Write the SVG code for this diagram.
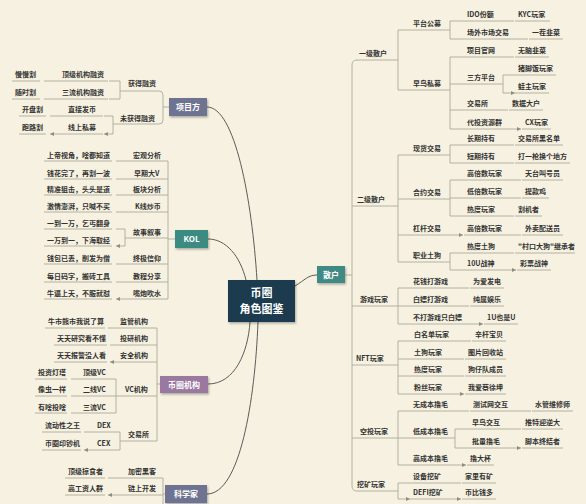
<svg xmlns="http://www.w3.org/2000/svg" width="586" height="504" viewBox="0 0 586 504">
<style>
text{font-family:"Noto Sans CJK SC","Noto Sans",sans-serif;}
.t{font-size:7px;fill:#333;font-weight:bold}
.b{font-size:8px;fill:#fff;font-weight:bold;text-anchor:middle}
.c{font-size:11px;fill:#fff;font-weight:bold;text-anchor:middle}
.l{stroke:#a3a394;stroke-width:.8;fill:none}
.a{stroke:#a3a394;stroke-width:.8;fill:none;marker-end:url(#ar)}
.m{stroke:#5c5c58;stroke-width:1;fill:none}
</style>
<defs>
<marker id="ar" viewBox="0 0 6 6" refX="6" refY="3" markerWidth="4" markerHeight="4" orient="auto" markerUnits="userSpaceOnUse"><path d="M0,0 L6,3 L0,6 z" fill="#8e8e80"/></marker>
<filter id="sh" x="-10%" y="-10%" width="130%" height="140%"><feDropShadow dx="1" dy="1.5" stdDeviation="0.8" flood-color="#000" flood-opacity="0.3"/></filter>
</defs>
<rect width="586" height="504" fill="#f6f1e0"/>

<g id="connectors">
<!-- main curves -->
<path class="m" d="M207 107 C235 107 252 200 257 280"/>
<path class="m" d="M208 239 C226 239 240 256 246 280"/>
<path class="m" d="M208 384 C235 384 248 352 250 322"/>
<path class="m" d="M207 494 C240 494 255 400 258 322"/>
<path class="m" d="M295 286 C305 280 308 275 317 275"/>

<!-- 项目方 -->
<path class="l" d="M169 107 H163 M120 91 H159 Q163 91 163 95 V120 Q163 124 159 124 H113"/>
<path class="l" d="M120 81 V99 M113 116 V134"/>
<path class="a" d="M120 81 H109 M120 99 H109 M113 116 H104 M113 134 H104"/>
<path class="a" d="M108 81 H44 M108 99 H44 M103 116 H50 M103 134 H50"/>
<path class="l" d="M12 81 H40 M12 99 H40 M19 116 H46 M19 134 H46"/>

<!-- KOL -->
<path class="l" d="M175 239 H168 M168 161 V299"/>
<path class="a" d="M168 161 H116 M168 179 H116 M168 195 H116 M168 212 H116 M168 264 H116 M168 282 H116 M168 299 H116"/>
<path class="l" d="M168 238 H125 M125 229 V246"/>
<path class="a" d="M125 229 H116 M125 246 H116"/>
<path class="l" d="M44 161 H112 M44 179 H112 M44 195 H112 M44 212 H112 M44 229 H112 M44 246 H112 M44 264 H112 M44 282 H112 M44 299 H112"/>

<!-- 币圈机构 -->
<path class="l" d="M160 384 H157 M157 328 V441"/>
<path class="a" d="M157 328 H108 M157 345 H110 M157 362 H110"/>
<path class="l" d="M45 328 H105 M54 345 H107 M54 362 H107"/>
<path class="l" d="M157 396 H116 M116 379 V413 M157 441 H120 M120 432 V450"/>
<path class="a" d="M116 379 H71 M116 396 H71 M116 413 H71 M120 432 H84 M120 450 H84"/>
<path class="l" d="M35 379 H67 M35 396 H67 M35 413 H67 M42 432 H81 M42 450 H81"/>

<!-- 科学家 -->
<path class="l" d="M165 494 H163 M163 478 V504"/>
<path class="a" d="M163 478 H108 M163 495 H108"/>
<path class="l" d="M65 478 H105 M65 495 H105"/>

<!-- 散户 main -->
<path class="l" d="M345 275 H352 M357 60 Q352 60 352 65 V486 Q352 491 357 491"/>
<path class="l" d="M357 60 H398 M352 206 H398 M352 306 H398 M352 365 H398 M352 438 H398 M357 491 H398"/>
<path class="l" d="M398 30 V90 M398 155 V262 M398 288 V324 M398 341 V394 M398 411 V465 M398 483 V499"/>
<path class="a" d="M398 30 H410 M398 90 H410 M398 155 H410 M398 199 H410 M398 235 H410 M398 262 H410 M398 288 H410 M398 306 H410 M398 324 H410 M398 341 H411 M398 359 H411 M398 376 H411 M398 394 H411 M398 411 H410 M398 438 H410 M398 465 H410 M398 483 H410 M398 499 H410"/>

<!-- 一级散户 -->
<path class="l" d="M410 30 H450 M450 21 V39 M410 90 H450 M450 57 V129 M464 84 H503 M503 75 V93"/>
<path class="a" d="M450 21 H464 M450 39 H464 M450 57 H464 M450 84 H464 M450 110 H464 M450 129 H464 M503 75 H515 M503 93 H515"/>
<path class="a" d="M464 21 H514 M464 39 H528 M464 57 H514 M464 110 H508 M464 129 H521"/>
<path class="l" d="M515 21 H550 M529 39 H563 M515 57 H549 M515 75 H556 M515 93 H549 M509 110 H543 M522 129 H551"/>

<!-- 二级散户 -->
<path class="l" d="M410 155 H450 M450 145 V163 M410 199 H450 M450 180 V216 M410 262 H450 M450 253 V270"/>
<path class="a" d="M450 145 H464 M450 163 H464 M450 180 H464 M450 198 H464 M450 216 H464 M450 253 H464 M450 270 H464 M410 235 H463"/>
<path class="a" d="M464 145 H514 M464 163 H514 M464 180 H521 M464 198 H521 M464 216 H514 M464 235 H521 M464 253 H514 M464 270 H516"/>
<path class="l" d="M515 145 H563 M515 163 H570 M522 180 H563 M522 198 H549 M515 216 H542 M522 235 H563 M515 253 H575 M517 270 H551"/>

<!-- 游戏玩家 -->
<path class="a" d="M410 288 H469 M410 306 H469 M410 324 H483"/>
<path class="l" d="M470 288 H504 M470 306 H504 M484 324 H518"/>

<!-- NFT玩家 -->
<path class="a" d="M411 341 H471 M411 359 H464 M411 376 H464 M411 394 H464"/>
<path class="l" d="M472 341 H506 M465 359 H506 M465 376 H506 M465 394 H506"/>

<!-- 空投玩家 -->
<path class="a" d="M410 411 H469 M470 411 H531 M410 465 H466"/>
<path class="l" d="M532 411 H573 M467 465 H494"/>
<path class="l" d="M410 438 H455 M455 429 V448"/>
<path class="a" d="M455 429 H469 M455 448 H469 M469 429 H521 M469 448 H521"/>
<path class="l" d="M522 429 H563 M522 448 H563"/>

<!-- 挖矿玩家 -->
<path class="a" d="M410 483 H461 M410 499 H461"/>
<path class="l" d="M462 483 H496 M462 499 H496"/>
</g>

<!-- central & main nodes -->
<g id="center"><rect x="228" y="280" width="67" height="42" fill="#1d3a50" filter="url(#sh)"/><text class="c" x="261.5" y="297">币圈</text><text class="c" x="261.5" y="313">角色图鉴</text></g>
<g id="xiangmufang"><rect x="169" y="98" width="38" height="18" fill="#6e7391" filter="url(#sh)"/><text class="b" x="188" y="110">项目方</text></g>
<g id="kol"><rect x="175" y="230" width="33" height="18" fill="#3b8b82" filter="url(#sh)"/><text class="b" x="191.5" y="242">KOL</text></g>
<g id="jigou"><rect x="160" y="376" width="48" height="17" fill="#9a789f" filter="url(#sh)"/><text class="b" x="184" y="387.5">币圈机构</text></g>
<g id="kexuejia"><rect x="165" y="485" width="42" height="18" fill="#6e7391" filter="url(#sh)"/><text class="b" x="186" y="497">科学家</text></g>
<g id="sanhu"><rect x="317" y="266" width="28" height="17" fill="#3f8a86" filter="url(#sh)"/><text class="b" x="331" y="277.5">散户</text></g>

<!-- left nodes -->
<g id="l-xmf" class="t">
<text class="t" x="128" y="85.5">获得融资</text>
<text class="t" x="120" y="120.5">未获得融资</text>
<text class="t" x="62" y="76.5">顶级机构融资</text>
<text class="t" x="62" y="94.5">三流机构融资</text>
<text class="t" x="68" y="111.5">直接发币</text>
<text class="t" x="68" y="129.5">线上私募</text>
<text class="t" x="15" y="76.5">慢慢割</text>
<text class="t" x="15" y="94.5">随时割</text>
<text class="t" x="22" y="111.5">开盘割</text>
<text class="t" x="22" y="129.5">跑路割</text>
</g>
<g id="l-kol">
<text class="t" x="133" y="157.5">宏观分析</text>
<text class="t" x="134" y="175.5">早期大V</text>
<text class="t" x="133" y="191.5">板块分析</text>
<text class="t" x="135" y="208.5">K线炒币</text>
<text class="t" x="133" y="234.5">故事叙事</text>
<text class="t" x="133" y="260.5">终极信仰</text>
<text class="t" x="133" y="278.5">教程分享</text>
<text class="t" x="133" y="295.5">嘴炮吹水</text>
<text class="t" x="47" y="157.5">上帝视角，啥都知道</text>
<text class="t" x="47" y="175.5">钱花完了，再割一波</text>
<text class="t" x="47" y="191.5">精准狙击，头头是道</text>
<text class="t" x="47" y="208.5">激情澎湃，只喊不买</text>
<text class="t" x="47" y="225.5">一到一万，乞丐翻身</text>
<text class="t" x="47" y="242.5">一万到一，下海取经</text>
<text class="t" x="47" y="260.5">钱包已丢，削发为僧</text>
<text class="t" x="47" y="278.5">每日码字，搬砖工具</text>
<text class="t" x="47" y="295.5">牛逼上天，不服就怼</text>
</g>
<g id="l-jigou">
<text class="t" x="120" y="323.5">监管机构</text>
<text class="t" x="120" y="340.5">投研机构</text>
<text class="t" x="120" y="357.5">安全机构</text>
<text class="t" x="125" y="391.5">VC机构</text>
<text class="t" x="128" y="436.5">交易所</text>
<text class="t" x="48" y="323.5">牛市熊市我说了算</text>
<text class="t" x="57" y="340.5">天天研究看不懂</text>
<text class="t" x="57" y="357.5">天天报警没人看</text>
<text class="t" x="83" y="374.5">顶级VC</text>
<text class="t" x="83" y="391.5">二线VC</text>
<text class="t" x="83" y="409.5">三流VC</text>
<text class="t" x="38" y="374.5">投资灯塔</text>
<text class="t" x="38" y="391.5">像虫一样</text>
<text class="t" x="38" y="409.5">有啥投啥</text>
<text class="t" x="97" y="427.5">DEX</text>
<text class="t" x="97" y="445.5">CEX</text>
<text class="t" x="45" y="427.5">流动性之王</text>
<text class="t" x="45" y="445.5">币圈印钞机</text>
</g>
<g id="l-kxj">
<text class="t" x="128" y="473.5">加密黑客</text>
<text class="t" x="128" y="490.5">链上开发</text>
<text class="t" x="68" y="473.5">顶级掠食者</text>
<text class="t" x="68" y="490.5">高工资人群</text>
</g>

<!-- right nodes -->
<g id="r-1">
<text class="t" x="359" y="55.5">一级散户</text>
<text class="t" x="413" y="25.5">平台公募</text>
<text class="t" x="413" y="85.5">早鸟私募</text>
<text class="t" x="467" y="16.5">IDO份额</text>
<text class="t" x="467" y="34.5">场外市场交易</text>
<text class="t" x="467" y="52.5">项目官网</text>
<text class="t" x="467" y="79.5">三方平台</text>
<text class="t" x="467" y="105.5">交易所</text>
<text class="t" x="467" y="124.5">代投资源群</text>
<text class="t" x="518" y="16.5">KYC玩家</text>
<text class="t" x="532" y="34.5">一茬韭菜</text>
<text class="t" x="518" y="52.5">无脑韭菜</text>
<text class="t" x="518" y="70.5">猪脚饭玩家</text>
<text class="t" x="518" y="88.5">蛙主玩家</text>
<text class="t" x="512" y="105.5">数据大户</text>
<text class="t" x="525" y="124.5">CX玩家</text>
</g>
<g id="r-2">
<text class="t" x="357" y="201.5">二级散户</text>
<text class="t" x="413" y="150.5">现货交易</text>
<text class="t" x="413" y="194.5">合约交易</text>
<text class="t" x="413" y="230.5">杠杆交易</text>
<text class="t" x="413" y="257.5">职业土狗</text>
<text class="t" x="467" y="140.5">长期持有</text>
<text class="t" x="467" y="158.5">短期持有</text>
<text class="t" x="467" y="175.5">高倍数玩家</text>
<text class="t" x="467" y="193.5">低倍数玩家</text>
<text class="t" x="467" y="211.5">热度玩家</text>
<text class="t" x="467" y="230.5">高倍数玩家</text>
<text class="t" x="467" y="248.5">热度土狗</text>
<text class="t" x="467" y="265.5">10U战神</text>
<text class="t" x="518" y="140.5">交易所黑名单</text>
<text class="t" x="518" y="158.5">打一枪换个地方</text>
<text class="t" x="525" y="175.5">天台叫号员</text>
<text class="t" x="525" y="193.5">提款鸡</text>
<text class="t" x="518" y="211.5">割机者</text>
<text class="t" x="525" y="230.5">外卖配送员</text>
<text class="t" x="518" y="248.5">"村口大狗"继承者</text>
<text class="t" x="520" y="265.5">彩票战神</text>
</g>
<g id="r-3">
<text class="t" x="360" y="301.5">游戏玩家</text>
<text class="t" x="413" y="283.5">花钱打游戏</text>
<text class="t" x="413" y="301.5">白嫖打游戏</text>
<text class="t" x="413" y="319.5">不打游戏只白嫖</text>
<text class="t" x="473" y="283.5">为爱发电</text>
<text class="t" x="473" y="301.5">纯属娱乐</text>
<text class="t" x="487" y="319.5">1U也是U</text>
</g>
<g id="r-4">
<text class="t" x="356" y="360.5">NFT玩家</text>
<text class="t" x="414" y="336.5">白名单玩家</text>
<text class="t" x="414" y="354.5">土狗玩家</text>
<text class="t" x="414" y="371.5">热度玩家</text>
<text class="t" x="414" y="389.5">粉丝玩家</text>
<text class="t" x="475" y="336.5">辛杆宝贝</text>
<text class="t" x="468" y="354.5">图片回收站</text>
<text class="t" x="468" y="371.5">狗仔队成员</text>
<text class="t" x="468" y="389.5">我爱蔡徐坤</text>
</g>
<g id="r-5">
<text class="t" x="360" y="433.5">空投玩家</text>
<text class="t" x="413" y="406.5">无成本撸毛</text>
<text class="t" x="413" y="433.5">低成本撸毛</text>
<text class="t" x="413" y="460.5">高成本撸毛</text>
<text class="t" x="473" y="406.5">测试网交互</text>
<text class="t" x="472" y="424.5">早鸟交互</text>
<text class="t" x="472" y="443.5">批量撸毛</text>
<text class="t" x="470" y="460.5">撸大杯</text>
<text class="t" x="535" y="406.5">水管维修师</text>
<text class="t" x="525" y="424.5">推特迎逆大</text>
<text class="t" x="525" y="443.5">脚本终结者</text>
</g>
<g id="r-6">
<text class="t" x="357" y="486.5">挖矿玩家</text>
<text class="t" x="413" y="478.5">设备挖矿</text>
<text class="t" x="413" y="494.5">DEFI挖矿</text>
<text class="t" x="465" y="478.5">家里有矿</text>
<text class="t" x="465" y="494.5">币比钱多</text>
</g>
</svg>
